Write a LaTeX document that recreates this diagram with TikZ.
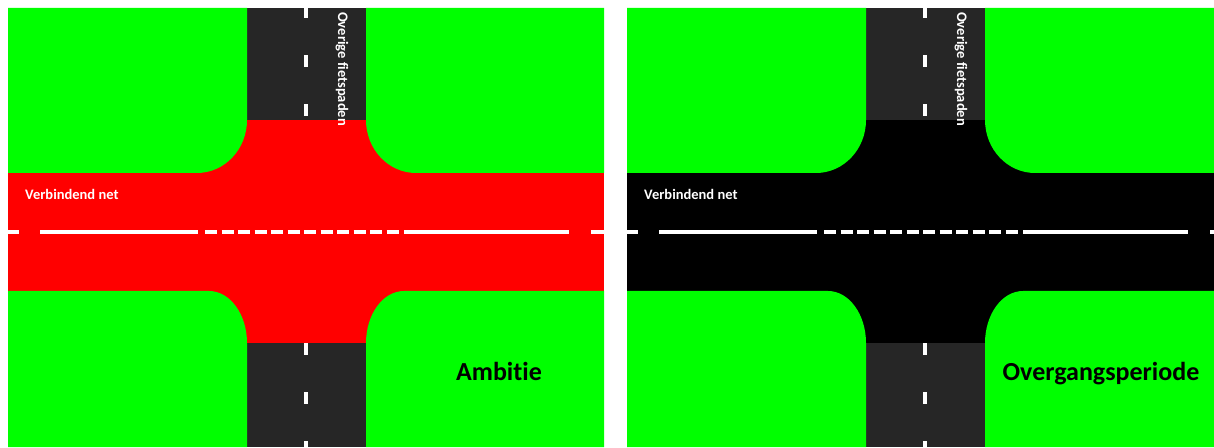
\documentclass[tikz,border=0pt]{standalone}
\usepackage{fontspec}
\setmainfont{Carlito}[Ligatures=NoCommon]
\usepackage{xcolor}
\definecolor{grass}{HTML}{00FF00}
\definecolor{asphalt}{HTML}{262626}

\begin{document}
\begin{tikzpicture}[x=1pt, y=1pt,
    block/.style={fill=grass},
    road/.style={fill=asphalt},
    centre/.style={draw=white, line width=3.5pt},
    stripe/.style={fill=white},
    tag/.style={font=\bfseries\fontsize{14.5}{16}\selectfont, text=white, inner sep=0pt},
    title/.style={font=\bfseries\fontsize{26}{30}\selectfont, inner sep=0pt}
  ]
  \useasboundingbox (0,0) rectangle (1214,447);

  % two panels: ambition (red) and transition (black)
  \foreach \px/\pw/\crossc/\name/\tx in {8/596/red/Ambitie/491, 627/587/black/Overgangsperiode/474} {
    \begin{scope}[xshift=\px pt]
      \clip (0,0) rectangle (\pw,439);
      \fill[\crossc] (0,0) rectangle (596,439);
      \fill[road] (239,327) rectangle (358,439);
      \fill[road] (239,0) rectangle (358,104);

      % corner blocks
      \fill[block] (0,274) -- (189,274) arc[start angle=270, end angle=360, x radius=50pt, y radius=53pt]
        -- (239,439) -- (0,439) -- cycle;
      \fill[block] (358,439) -- (358,327) arc[start angle=180, end angle=270, x radius=50pt, y radius=53pt]
        -- (596,274) -- (596,439) -- cycle;
      \fill[block] (0,156) -- (201,156) arc[start angle=90, end angle=0, x radius=38pt, y radius=52pt]
        -- (239,0) -- (0,0) -- cycle;
      \fill[block] (358,0) -- (358,104) arc[start angle=180, end angle=90, x radius=38pt, y radius=52pt]
        -- (596,156) -- (596,0) -- cycle;

      % markings
      \foreach \y in {-6,43,92,331,380,429}
        \fill[stripe] (296,\y) rectangle ++(4,12);
      \draw[centre] (0,215) -- (11,215);
      \draw[centre] (32,215) -- (190,215);
      \draw[centre, dash pattern=on 12pt off 4.5pt] (197,215) -- (391,215);
      \draw[centre] (396,215) -- (561,215);
      \draw[centre] (583,215) -- (596,215);

      \node[tag, anchor=west] (net\px) at (17,253) {Verbindend net};
      \node[tag, anchor=west, rotate=-90] (paths\px) at (334,435) {Overige fietspaden};
      \node[title, anchor=base] (name\px) at (\tx,67) {\name};
    \end{scope}
  }
\end{tikzpicture}
\end{document}
